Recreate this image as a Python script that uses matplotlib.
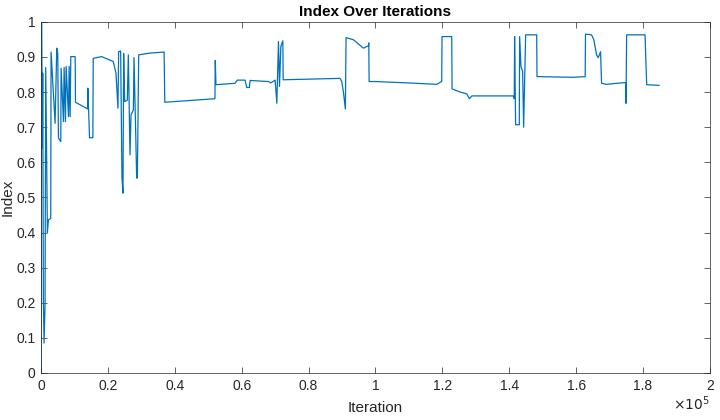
import matplotlib
matplotlib.use("Agg")
import matplotlib.pyplot as plt
from matplotlib.ticker import FuncFormatter

# breakpoints of the trace
iterations = [
    0, 150, 400, 500, 700, 900, 1200, 1400, 1900, 2200, 2900, 3000,
    4200, 4700, 5000, 5200, 5900, 6000, 6700, 6900, 7300, 7500, 8200, 8400,
    8700, 8900, 10200, 10300, 13900, 14000, 14500, 15500, 15600, 18100,
    21600, 22400, 23000, 23200, 23800, 24200, 24500, 24700, 25000, 25800,
    26100, 26600, 26900, 27600, 27800, 28600, 28800, 29200, 32600, 36800,
    37000, 52000, 52100, 52300, 58000, 58700, 61000, 61500, 62300, 62500,
    68000, 68700, 70000, 70500, 71000, 71300, 71700, 72300, 72400, 89400,
    89900, 90400, 91000, 91200, 93400, 96400, 97900, 98000, 98100, 100000,
    110000, 118300, 119800, 119900, 122800, 122900, 125300, 127300, 128100,
    128800, 141200, 141500, 141600, 141900, 143000, 143100, 143500, 144000,
    144300, 144900, 148200, 148300, 159200, 162700, 162800, 164600, 165300,
    166100, 166600, 167300, 167600, 169100, 172100, 174800, 174900, 175100,
    180600, 180900, 181100, 184800,
]
index = [
    0.0, 1.0, 0.64, 0.854, 0.21, 0.085, 0.194, 0.87, 0.40, 0.436, 0.44, 0.914,
    0.711, 0.925, 0.91, 0.669, 0.659, 0.868, 0.716, 0.87, 0.716, 0.873, 0.73, 0.873,
    0.73, 0.901, 0.901, 0.771, 0.752, 0.811, 0.67, 0.67, 0.896, 0.901,
    0.887, 0.854, 0.754, 0.915, 0.917, 0.555, 0.512, 0.91, 0.773, 0.777,
    0.906, 0.621, 0.735, 0.749, 0.898, 0.555, 0.555, 0.906, 0.911, 0.914,
    0.771, 0.781, 0.89, 0.821, 0.825, 0.834, 0.834, 0.813, 0.813, 0.833,
    0.830, 0.826, 0.834, 0.768, 0.944, 0.816, 0.93, 0.946, 0.835, 0.839,
    0.83, 0.801, 0.752, 0.955, 0.949, 0.925, 0.932, 0.94, 0.830, 0.830,
    0.826, 0.822, 0.830, 0.958, 0.958, 0.809, 0.80, 0.795, 0.781,
    0.789, 0.789, 0.781, 0.958, 0.707, 0.707, 0.958, 0.873, 0.859,
    0.70, 0.963, 0.963, 0.844, 0.842, 0.844, 0.965, 0.963, 0.949,
    0.906, 0.898, 0.915, 0.825, 0.822, 0.825, 0.827, 0.768, 0.963,
    0.963, 0.873, 0.821, 0.819,
]

xticks = [0, 20000, 40000, 60000, 80000, 100000, 120000, 140000, 160000, 180000, 200000]
yticks = [0, 0.1, 0.2, 0.3, 0.4, 0.5, 0.6, 0.7, 0.8, 0.9, 1.0]

plt.rcParams['font.family'] = ['Liberation Sans', 'DejaVu Sans']

fig = plt.figure(figsize=(7.2, 4.2), dpi=100)
ax = fig.add_axes([0.057, 0.112, 0.929, 0.836])

ax.plot(iterations, index, color='#0072BD', lw=0.9)

ax.set_xlim(0, 200000)
ax.set_ylim(0, 1)
ax.set_xticks(xticks)
ax.set_yticks(yticks)
ax.xaxis.set_major_formatter(FuncFormatter(lambda v, p: f"{v / 1e5:g}"))
ax.yaxis.set_major_formatter(FuncFormatter(lambda v, p: f"{v:g}"))

axis_col = '#262626'
for s in ax.spines.values():
    s.set_color(axis_col)
    s.set_linewidth(0.5)
ax.tick_params(direction='in', length=4.5, width=0.5, colors=axis_col,
               labelsize=10, top=True, right=True, pad=4)

ax.set_title('Index Over Iterations', fontsize=11, fontweight='bold',
             color='black', pad=4)
ax.set_xlabel('Iteration', fontsize=11, color=axis_col, labelpad=6)
ax.set_ylabel('Index', fontsize=11, color=axis_col, labelpad=1)
# MATLAB-style exponent under the right end of the x axis
ax.text(1.0, -0.062, r'$\times10^{5}$', transform=ax.transAxes,
        ha='right', va='top', fontsize=10, color=axis_col)

fig.savefig('out.png', dpi=100)
